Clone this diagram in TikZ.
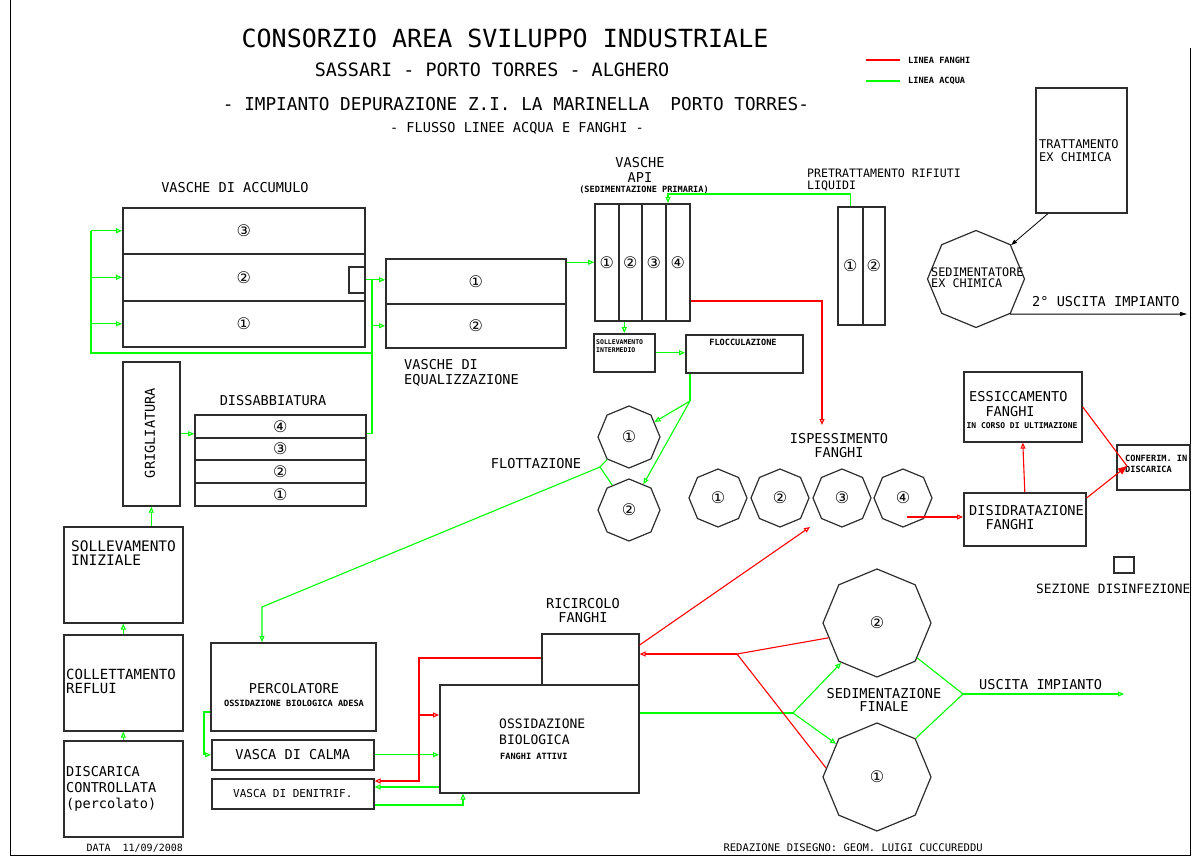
\documentclass[tikz,border=0pt]{standalone}
\usepackage{fontspec}
\usepackage{tikz}
\usetikzlibrary{arrows.meta, shapes.geometric, calc}
\newfontfamily\cadfont{DejaVu Sans Mono}
\newfontfamily\numfont{DejaVu Sans}
\definecolor{acquacol}{RGB}{0,255,0}
\definecolor{fanghicol}{RGB}{255,0,0}
\definecolor{bordo}{RGB}{45,45,45}

\begin{document}
\begin{tikzpicture}[
    x=1pt, y=-1pt,
    vasca/.style={
        draw=bordo, line width=1.6pt, inner sep=0pt, anchor=north west
    },
    ottagono/.style={
        draw=bordo, line width=1.2pt, regular polygon, regular polygon sides=8,
        regular polygon rotate=22.5, inner sep=0pt,
        font=\numfont\fontsize{16}{16}\selectfont
    },
    lbl/.style={font=\cadfont\fontsize{13.6}{15}\selectfont, inner sep=0pt, align=left},
    small/.style={font=\cadfont\bfseries\fontsize{8.6}{10}\selectfont, inner sep=0pt, align=left},
    num/.style={font=\numfont\fontsize{16}{16}\selectfont},
    acqua/.style={draw=acquacol, line width=1.1pt, -{Triangle[open, length=6pt, width=5pt]}},
    fanghi/.style={draw=fanghicol, line width=1.1pt, -{Triangle[open, length=6pt, width=5pt]}},
]
\useasboundingbox (0,0) rectangle (1194,858);
\draw[line width=1pt] (10,0) -- (10,855) -- (1190,855) -- (1190,48);

% titles
\node[font=\cadfont\fontsize{25}{27}\selectfont] (tit1) at (505,38) {CONSORZIO AREA SVILUPPO INDUSTRIALE};
\node[font=\cadfont\fontsize{18.4}{20}\selectfont] (tit2) at (492,70) {SASSARI - PORTO TORRES - ALGHERO};
\node[font=\cadfont\fontsize{17.7}{20}\selectfont] (tit3) at (516,104) {- IMPIANTO DEPURAZIONE Z.I. LA MARINELLA\ \ PORTO TORRES-};
\node[font=\cadfont\fontsize{13.6}{15}\selectfont] (tit4) at (517,128) {- FLUSSO LINEE ACQUA E FANGHI -};

% legend
\node[small, anchor=west] (legf) at (908,60) {LINEA FANGHI};
\node[small, anchor=west] (lega) at (908,81) {LINEA ACQUA};
\draw[fanghicol, line width=1.1pt] ($(legf.west)+(-8,0)$) -- ++(-34,0);
\draw[acquacol, line width=1.1pt] ($(lega.west)+(-8,0)$) -- ++(-34,0);

% vasche
\node[vasca, num, minimum width=242pt, minimum height=46pt] (acc3) at (122,207) {③};
\node[vasca, num, minimum width=242pt, minimum height=47pt] (acc2) at (122,253) {②};
\node[vasca, num, minimum width=242pt, minimum height=46pt] (acc1) at (122,300) {①};
\node[vasca, minimum width=16pt, minimum height=26pt] (acc2out) at (348,266) {};
\node[vasca, num, minimum width=180pt, minimum height=45pt] (eq1) at (385,258) {①};
\node[vasca, num, minimum width=180pt, minimum height=44pt] (eq2) at (385,303) {②};
\node[vasca, num, minimum width=24pt, minimum height=117pt] (api1) at (594,203) {①};
\node[vasca, num, minimum width=23pt, minimum height=117pt] (api2) at (618,203) {②};
\node[vasca, num, minimum width=24pt, minimum height=117pt] (api3) at (641,203) {③};
\node[vasca, num, minimum width=24pt, minimum height=117pt] (api4) at (665,203) {④};
\node[vasca, num, minimum width=25pt, minimum height=118pt] (pre1) at (837,206) {①};
\node[vasca, num, minimum width=22pt, minimum height=118pt] (pre2) at (862,206) {②};
\node[vasca, minimum width=61pt, minimum height=38pt] (solint) at (593,333) {};
\node[vasca, minimum width=117pt, minimum height=38pt] (flocc) at (685,334) {};
\node[vasca, minimum width=91pt, minimum height=125pt] (tratt) at (1035,87) {};
\node[vasca, minimum width=57pt, minimum height=144pt] (grig) at (122,361) {};
\node[vasca, num, minimum width=171pt, minimum height=23pt] (dis4) at (194,414) {④};
\node[vasca, num, minimum width=171pt, minimum height=22pt] (dis3) at (194,437) {③};
\node[vasca, num, minimum width=171pt, minimum height=23pt] (dis2) at (194,459) {②};
\node[vasca, num, minimum width=171pt, minimum height=23pt] (dis1) at (194,482) {①};
\node[vasca, minimum width=119pt, minimum height=96pt] (soll) at (63,526) {};
\node[vasca, minimum width=119pt, minimum height=96pt] (coll) at (63,634) {};
\node[vasca, minimum width=119pt, minimum height=96pt] (disc) at (63,740) {};
\node[vasca, minimum width=165pt, minimum height=88pt] (perc) at (210,642) {};
\node[vasca, lbl, minimum width=162pt, minimum height=30pt] (calma) at (211,739) {VASCA DI CALMA};
\node[vasca, lbl, font=\cadfont\fontsize{11}{12}\selectfont, minimum width=162pt, minimum height=30pt] (denit) at (211,778) {VASCA DI DENITRIF.};
\node[vasca, minimum width=97pt, minimum height=51pt] (ric) at (541,633) {};
\node[vasca, minimum width=199pt, minimum height=108pt] (ossi) at (439,684) {};
\node[vasca, minimum width=118pt, minimum height=70pt] (essi) at (963,371) {};
\node[vasca, minimum width=122pt, minimum height=53pt] (disi) at (963,492) {};
\node[vasca, minimum width=73pt, minimum height=45pt] (conf) at (1116,444) {};
\node[vasca, minimum width=20pt, minimum height=16pt] (disinf) at (1113,556) {};

% sedimentatori
\node[ottagono, minimum size=62pt] (flot1) at (629,437) {①};
\node[ottagono, minimum size=62pt] (flot2) at (629,510) {②};
\node[ottagono, minimum size=58pt] (isp1) at (718,498) {①};
\node[ottagono, minimum size=58pt] (isp2) at (780,498) {②};
\node[ottagono, minimum size=58pt] (isp3) at (842,498) {③};
\node[ottagono, minimum size=58pt] (isp4) at (903,498) {④};
\node[ottagono, minimum size=108pt] (sed2) at (877,623) {②};
\node[ottagono, minimum size=108pt] (sed1) at (877,777) {①};
\node[ottagono, minimum size=97pt] (sedimc) at (976,279) {};

% labels
\node[lbl] (lacc) at (235,188) {VASCHE DI ACCUMULO};
\node[lbl, anchor=north west] (leq) at (404,359) {VASCHE DI\\EQUALIZZAZIONE};
\node[lbl, align=center] (lapi) at (640,170) {VASCHE\\API};
\node[small] (lprim) at (644,190) {(SEDIMENTAZIONE PRIMARIA)};
\node[lbl, font=\cadfont\fontsize{11.6}{11.5}\selectfont, anchor=north west] (lpre) at (807,169) {PRETRATTAMENTO RIFIUTI\\LIQUIDI};
\node[lbl, font=\cadfont\fontsize{12}{13}\selectfont, anchor=north west] (ltratt) at (1039,139) {TRATTAMENTO\\EX CHIMICA};
\node[lbl, font=\cadfont\fontsize{11.8}{11}\selectfont, anchor=north west] (lsedimc) at (931,268) {SEDIMENTATORE\\EX CHIMICA};
\node[lbl, anchor=west] (lusc2) at (1032,302) {2° USCITA IMPIANTO};
\node[small, font=\cadfont\bfseries\fontsize{6.5}{8}\selectfont, anchor=north west] (lsolint) at (596,339) {SOLLEVAMENTO\\INTERMEDIO};
\node[small] (lflocc) at (743,342) {FLOCCULAZIONE};
\node[lbl] (ldis) at (273,401) {DISSABBIATURA};
\node[lbl, rotate=90] (lgrig) at (150,433) {GRIGLIATURA};
\node[lbl] (lflot) at (536,464) {FLOTTAZIONE};
\node[lbl, align=center, font=\cadfont\fontsize{13.6}{14}\selectfont] (lisp) at (839,446) {ISPESSIMENTO\\FANGHI};
\node[lbl, anchor=north west] (lessi) at (969,391) {ESSICCAMENTO\\\hspace*{1.2em}FANGHI};
\node[small, font=\cadfont\bfseries\fontsize{8}{9}\selectfont] (lult) at (1022,426) {IN CORSO DI ULTIMAZIONE};
\node[lbl, anchor=north west, font=\cadfont\fontsize{13.6}{14}\selectfont] (ldisi) at (969,505) {DISIDRATAZIONE\\\hspace*{1.2em}FANGHI};
\node[small, anchor=north west, font=\cadfont\bfseries\fontsize{8.6}{11}\selectfont] (lconf) at (1125,455) {CONFERIM. IN\\DISCARICA};
\node[lbl, anchor=west, font=\cadfont\fontsize{12.8}{14}\selectfont] (ldisinf) at (1036,589) {SEZIONE DISINFEZIONE};
\node[lbl, anchor=north west, font=\cadfont\fontsize{14.5}{14}\selectfont] (lsoll) at (71,541) {SOLLEVAMENTO\\INIZIALE};
\node[lbl, anchor=north west, font=\cadfont\fontsize{14}{14}\selectfont] (lcoll) at (66,669) {COLLETTAMENTO\\REFLUI};
\node[lbl, anchor=north west, font=\cadfont\fontsize{13.6}{16}\selectfont] (ldisc) at (66,766) {DISCARICA\\CONTROLLATA\\(percolato)};
\node[lbl] (lperc) at (294,689) {PERCOLATORE};
\node[small] (lossad) at (294,703) {OSSIDAZIONE BIOLOGICA ADESA};
\node[lbl, align=center, font=\cadfont\fontsize{13.6}{14}\selectfont] (lric) at (583,611) {RICIRCOLO\\FANGHI};
\node[lbl, anchor=north west, font=\cadfont\fontsize{13}{16}\selectfont] (lossi) at (499,719) {OSSIDAZIONE\\BIOLOGICA};
\node[small, anchor=west] (latt) at (500,756) {FANGHI ATTIVI};
\node[lbl, align=center, font=\cadfont\fontsize{13.6}{13}\selectfont] (lsedf) at (884,700) {SEDIMENTAZIONE\\FINALE};
\node[lbl, anchor=west] (lusc) at (979,685) {USCITA IMPIANTO};
\node[font=\cadfont\fontsize{10}{11}\selectfont, anchor=west] (ldata) at (83,848) {DATA\ \ 11/09/2008};
\node[font=\cadfont\fontsize{10.5}{11}\selectfont, anchor=west] (lred) at (720,848) {REDAZIONE DISEGNO: GEOM. LUIGI CUCCUREDDU};

% linea acqua
\coordinate (riser) at (372,353);
\coordinate (bus) at (91,353);
\draw[acqua] (grig.east) -- (grig.east -| dis4.west);
\draw[acqua, -] (grig.east -| dis4.east) -- (grig.east -| riser) -- (riser |- acc2out.east);
\draw[acqua] (acc2out.east) -- (acc2out.east -| eq1.west);
\draw[acqua] (eq2.west -| riser) -- (eq2.west);
\draw[acqua, -] (riser) -- (bus) -- (bus |- acc3.west);
\draw[acqua] (bus |- acc3.west) -- (acc3.west);
\draw[acqua] (bus |- acc2.west) -- (acc2.west);
\draw[acqua] (bus |- acc1.west) -- (acc1.west);
\draw[acqua] (grig.south |- soll.north) -- (grig.south);
\draw[acqua] (coll.north) -- (soll.south);
\draw[acqua] (disc.north) -- (coll.south);
\draw[acqua] (api1.west -| eq1.east) -- (api1.west);
\coordinate (preturn) at (668,194);
\draw[acqua] (pre1.north) |- (preturn) -- (preturn |- api4.north);
\draw[acqua] (solint.north |- api2.south) -- (solint.north);
\draw[acqua] (solint.east) -- (solint.east -| flocc.west);
\coordinate (flj) at (690,401);
\draw[acqua, -] (flj |- flocc.south) -- (flj);
\draw[acqua] (flj) -- (flot1);
\draw[acqua] (flj) -- (flot2);
\coordinate (ftj) at (600,467);
\coordinate (percbend) at (262,607);
\draw[acqua, -] (flot1) -- (ftj) -- (flot2);
\draw[acqua] (ftj) -- (percbend) -- (percbend |- perc.north);
\coordinate (percout) at (204,712);
\draw[acqua] (percout -| perc.west) -- (percout) |- (calma.west);
\draw[acqua] (calma.east) -- (calma.east -| ossi.west);
\coordinate (dnret) at (0,787);
\draw[acqua] (dnret -| ossi.west) -- (dnret -| denit.east);
\coordinate (dnback) at (463,805);
\draw[acqua] (dnback -| denit.east) -- (dnback) -- (dnback |- ossi.south);
\coordinate (sgj) at (793,713);
\draw[acqua, -] (sgj -| ossi.east) -- (sgj);
\draw[acqua] (sgj) -- (sed2.228);
\draw[acqua] (sgj) -- (sed1.141);
\coordinate (suj) at (963,694);
\coordinate (uscita) at (1124,694);
\draw[acqua, -] (sed2.319) -- (suj) -- (sed1.45);
\draw[acqua] (suj) -- (uscita);

% linea fanghi
\coordinate (apir) at (822,301);
\coordinate (ispdown) at (822,425);
\draw[fanghi] (apir -| api4.east) -- (apir) -- (ispdown);
\coordinate (ispout) at (907,517);
\draw[fanghi] (ispout) -- (ispout -| disi.west);
\draw[fanghi] (disi.north) -- (essi.south);
\coordinate (confin) at (1127,466);
\draw[fanghi, -] (essi.east) -- (confin);
\draw[fanghi, -{Triangle[length=9pt, width=7pt]}] ($(disi.north east)+(0,6)$) -- (confin);
\coordinate (rcl) at (419,658);
\coordinate (rcd) at (419,781);
\draw[fanghi] (rcl -| ric.west) -- (rcl) -- (rcd) -- (rcd -| denit.east);
\coordinate (rco) at (419,715);
\draw[fanghi] (rco) -- (rco -| ossi.west);
\coordinate (ispin) at (810,527);
\draw[fanghi] ($(ric.north east)+(0,12)$) -- (ispin);
\coordinate (sfj) at (737,654);
\draw[fanghi] (sfj) -- (sfj -| ric.east);
\draw[fanghi, -] (sed2.197) -- (sfj) -- (sed1.170);

% ex chimica
\draw[line width=0.8pt, -{Triangle[length=6pt, width=4pt]}] ($(tratt.south west)+(13,0)$) -- (sedimc.44);
\coordinate (uscita2) at (1187,314);
\draw[line width=1pt, -{Triangle[length=7pt, width=4pt]}] (sedimc.314) -- (uscita2);
\end{tikzpicture}
\end{document}
